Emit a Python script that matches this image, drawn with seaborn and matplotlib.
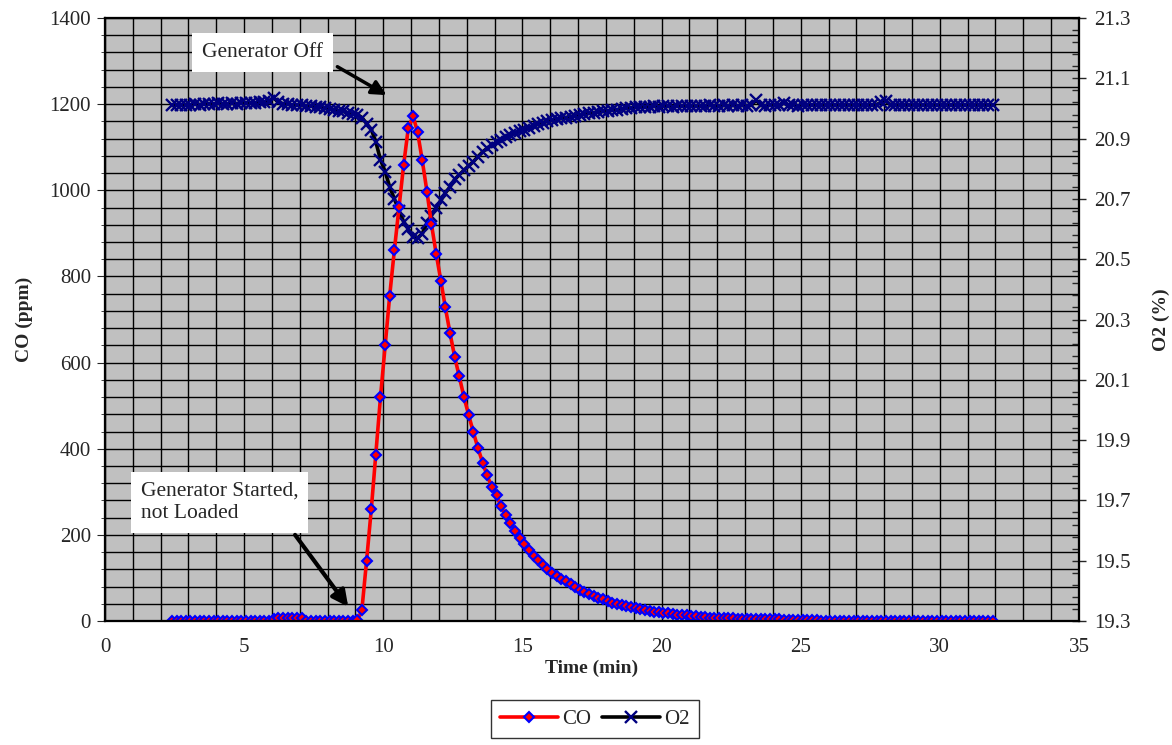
import numpy as np
import pandas as pd
import seaborn as sns
import matplotlib.pyplot as plt
from matplotlib.ticker import MultipleLocator, FixedLocator

# sample times (min), one reading every 10 s
time_min = [
    2.40, 2.57, 2.73, 2.90, 3.07, 3.23, 3.40, 3.57, 3.73, 3.90,
    4.07, 4.23, 4.40, 4.57, 4.73, 4.90, 5.07, 5.23, 5.40, 5.57,
    5.73, 5.90, 6.07, 6.23, 6.40, 6.57, 6.73, 6.90, 7.07, 7.23,
    7.40, 7.57, 7.73, 7.90, 8.07, 8.23, 8.40, 8.57, 8.73, 8.90,
    9.07, 9.23, 9.40, 9.57, 9.73, 9.90, 10.07, 10.23, 10.40, 10.57,
    10.73, 10.90, 11.07, 11.23, 11.40, 11.57, 11.73, 11.90, 12.07, 12.23,
    12.40, 12.57, 12.73, 12.90, 13.07, 13.23, 13.40, 13.57, 13.73, 13.90,
    14.07, 14.23, 14.40, 14.57, 14.73, 14.90, 15.07, 15.23, 15.40, 15.57,
    15.73, 15.90, 16.07, 16.23, 16.40, 16.57, 16.73, 16.90, 17.07, 17.23,
    17.40, 17.57, 17.73, 17.90, 18.07, 18.23, 18.40, 18.57, 18.73, 18.90,
    19.07, 19.23, 19.40, 19.57, 19.73, 19.90, 20.07, 20.23, 20.40, 20.57,
    20.73, 20.90, 21.07, 21.23, 21.40, 21.57, 21.73, 21.90, 22.07, 22.23,
    22.40, 22.57, 22.73, 22.90, 23.07, 23.23, 23.40, 23.57, 23.73, 23.90,
    24.07, 24.23, 24.40, 24.57, 24.73, 24.90, 25.07, 25.23, 25.40, 25.57,
    25.73, 25.90, 26.07, 26.23, 26.40, 26.57, 26.73, 26.90, 27.07, 27.23,
    27.40, 27.57, 27.73, 27.90, 28.07, 28.23, 28.40, 28.57, 28.73, 28.90,
    29.07, 29.23, 29.40, 29.57, 29.73, 29.90, 30.07, 30.23, 30.40, 30.57,
    30.73, 30.90, 31.07, 31.23, 31.40, 31.57, 31.73, 31.90,
]

co_ppm = [
    0, 1, 0, 0, 1, 0, 0, 1, 0, 0,
    1, 0, 0, 1, 0, 0, 1, 0, 0, 1,
    0, 1, 5, 7, 8, 7, 8, 7, 6, 1,
    0, 0, 1, 0, 0, 1, 0, 0, 1, 0,
    2, 25, 140, 260, 385, 520, 640, 755, 862, 962,
    1058, 1145, 1172, 1136, 1070, 997, 922, 853, 790, 728,
    668, 612, 568, 520, 478, 440, 402, 368, 338, 312,
    292, 266, 246, 228, 210, 192, 178, 165, 152, 141,
    130, 121, 112, 104, 97, 92, 85, 78, 71, 67,
    62, 58, 54, 50, 46, 43, 40, 37, 34, 32,
    30, 28, 26, 24, 22, 21, 19, 18, 16, 15,
    14, 13, 12, 11, 10, 9, 8, 8, 7, 7,
    6, 6, 5, 5, 5, 4, 4, 4, 4, 4,
    4, 4, 3, 3, 3, 3, 2, 2, 2, 2,
    1, 1, 1, 1, 1, 1, 1, 1, 0, 1,
    0, 1, 0, 1, 0, 0, 1, 0, 0, 1,
    0, 0, 1, 0, 0, 1, 0, 0, 0, 1,
    0, 0, 1, 0, 0, 1, 0, 0,
]

o2_pct = [
    21.010, 21.012, 21.011, 21.013, 21.012, 21.014, 21.013, 21.015, 21.016, 21.014,
    21.017, 21.016, 21.015, 21.017, 21.016, 21.018, 21.017, 21.019, 21.018, 21.020,
    21.021, 21.026, 21.035, 21.020, 21.016, 21.014, 21.012, 21.012, 21.010, 21.008,
    21.008, 21.005, 21.004, 21.000, 20.998, 20.996, 20.993, 20.990, 20.985, 20.982,
    20.980, 20.970, 20.950, 20.930, 20.890, 20.830, 20.790, 20.740, 20.700, 20.660,
    20.625, 20.600, 20.575, 20.570, 20.585, 20.620, 20.645, 20.670, 20.695, 20.720,
    20.740, 20.765, 20.780, 20.795, 20.810, 20.823, 20.840, 20.856, 20.868, 20.878,
    20.888, 20.897, 20.905, 20.912, 20.918, 20.925, 20.930, 20.936, 20.942, 20.948,
    20.953, 20.957, 20.961, 20.964, 20.967, 20.970, 20.973, 20.976, 20.979, 20.981,
    20.984, 20.986, 20.988, 20.990, 20.992, 20.994, 20.996, 20.998, 21.000, 21.002,
    21.004, 21.005, 21.006, 21.005, 21.007, 21.006, 21.008, 21.007, 21.006, 21.008,
    21.007, 21.009, 21.008, 21.007, 21.009, 21.008, 21.010, 21.009, 21.008, 21.010,
    21.009, 21.010, 21.008, 21.010, 21.009, 21.011, 21.028, 21.010, 21.009, 21.011,
    21.010, 21.012, 21.018, 21.010, 21.011, 21.009, 21.011, 21.010, 21.012, 21.011,
    21.010, 21.012, 21.011, 21.010, 21.012, 21.011, 21.010, 21.012, 21.011, 21.010,
    21.012, 21.011, 21.013, 21.020, 21.024, 21.012, 21.011, 21.013, 21.012, 21.011,
    21.013, 21.012, 21.011, 21.013, 21.012, 21.011, 21.013, 21.012, 21.011, 21.013,
    21.012, 21.011, 21.013, 21.012, 21.011, 21.012, 21.011, 21.012,
]

o2_ticks = [19.3, 19.5, 19.7, 19.9, 20.1, 20.3, 20.5, 20.7, 20.9, 21.1, 21.3]

df = pd.DataFrame({"Time": time_min, "CO": co_ppm, "O2": o2_pct})

sns.set_style("white")
plt.rcParams["font.family"] = ["Liberation Serif", "DejaVu Serif"]

fig = plt.figure(figsize=(11.72, 7.45), dpi=100)
rect = [0.0896, 0.1664, 0.831, 0.8094]

# background axes: grey fill and the grid (1 min x 40 ppm)
bg = fig.add_axes(rect, zorder=0)
bg.set_facecolor("#C0C0C0")
bg.set_xlim(0, 35)
bg.set_ylim(0, 1400)
bg.xaxis.set_major_locator(MultipleLocator(1))
bg.yaxis.set_major_locator(MultipleLocator(40))
bg.grid(True, color="black", lw=1.0)
bg.tick_params(left=False, bottom=False, labelleft=False, labelbottom=False)

ax = fig.add_axes(rect, zorder=2)
ax2 = ax.twinx()
ax2.set_zorder(1)
ax.patch.set_visible(False)
ax2.patch.set_visible(False)

sns.lineplot(data=df, x="Time", y="O2", ax=ax2, color="black", lw=2.6,
             marker="x", markersize=8, markeredgecolor="#000080",
             markeredgewidth=1.7, label="O2", legend=False, errorbar=None)
sns.lineplot(data=df, x="Time", y="CO", ax=ax, color="red", lw=2.6,
             marker="D", markersize=5.5, markerfacecolor="red",
             markeredgecolor="blue", markeredgewidth=1.5, label="CO",
             legend=False, errorbar=None)

ax.set_xlim(0, 35)
ax.set_ylim(0, 1400)
ax2.set_ylim(19.3, 21.3)

ax2.yaxis.set_major_locator(FixedLocator(o2_ticks))
ax2.yaxis.set_minor_locator(FixedLocator(np.linspace(19.3, 21.3, 51)))
ax2.set_yticklabels([f"{v:.1f}" for v in o2_ticks])
ax2.tick_params(axis="y", which="major", direction="inout", length=10,
                width=1, labelsize=15, pad=6)
ax2.tick_params(axis="y", which="minor", direction="in", length=5, width=1)
ax2.set_ylabel("O2 (%)", fontsize=14, fontweight="bold", labelpad=16)

ax.xaxis.set_major_locator(MultipleLocator(5))
ax.xaxis.set_minor_locator(MultipleLocator(1))
ax.yaxis.set_major_locator(MultipleLocator(200))
ax.yaxis.set_minor_locator(MultipleLocator(40))
ax.tick_params(axis="x", which="major", direction="inout", length=8,
               labelsize=15, pad=8)
ax.tick_params(axis="x", which="minor", direction="in", length=5)
ax.tick_params(axis="y", which="major", direction="out", length=6,
               labelsize=15, pad=4)
ax.tick_params(axis="y", which="minor", direction="out", length=3)
ax.set_xlabel("Time (min)", fontsize=14, fontweight="bold", labelpad=2)
ax.set_ylabel("CO (ppm)", fontsize=14, fontweight="bold", labelpad=12)

for a in (ax, ax2, bg):
    for s in a.spines.values():
        s.set_color("black")
        s.set_linewidth(1.5)

# annotations
box = dict(boxstyle="square,pad=0.45", facecolor="white", edgecolor="none")
ax.text(5.66, 1320, "Generator Off", fontsize=15.5, ha="center", va="center",
        bbox=box, zorder=5)
ax.annotate("", xy=(10.12, 1221), xytext=(8.35, 1287),
            arrowprops=dict(arrowstyle="-|>", color="black", lw=2.5,
                            mutation_scale=22, shrinkA=0, shrinkB=0), zorder=5)
ax.text(1.3, 276, "Generator Started,\nnot Loaded", fontsize=15.5,
        ha="left", va="center", linespacing=1.25,
        bbox=dict(boxstyle="square,pad=0.45", facecolor="white",
                  edgecolor="none"), zorder=5)
ax.annotate("", xy=(8.74, 33), xytext=(6.83, 200),
            arrowprops=dict(arrowstyle="-|>", color="black", lw=3,
                            mutation_scale=24, shrinkA=0, shrinkB=0), zorder=5)

h1, l1 = ax.get_legend_handles_labels()
h2, l2 = ax2.get_legend_handles_labels()
leg = fig.legend(h1 + h2, l1 + l2, loc="center",
                 bbox_to_anchor=(595 / 1172, 1 - 719 / 745), ncol=2,
                 frameon=True, fancybox=False, edgecolor="black", fontsize=15,
                 handlelength=2.8, handletextpad=0.2, columnspacing=0.5,
                 borderpad=0.45)
leg.get_frame().set_linewidth(1.0)

fig.savefig("out.png", dpi=100, facecolor="white")
